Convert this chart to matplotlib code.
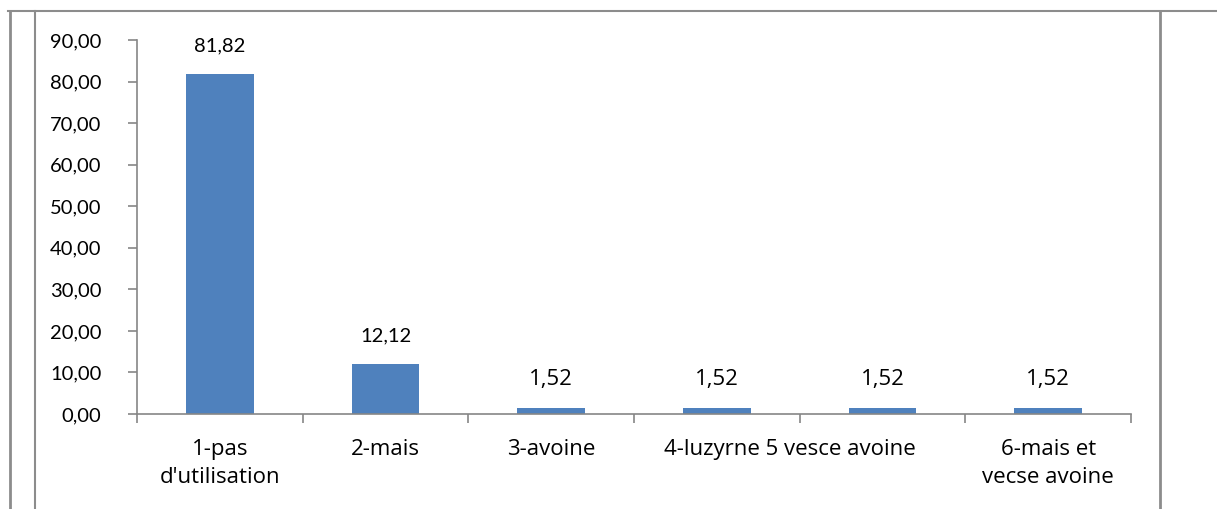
import matplotlib
matplotlib.use("Agg")
import matplotlib.pyplot as plt
from matplotlib.lines import Line2D
from matplotlib.transforms import ScaledTranslation

# donnees du graphique
categories = ["1-pas\nd'utilisation", "2-mais", "3-avoine",
              "4-luzyrne 5 vesce avoine", "", "6-mais et\nvecse avoine"]
valeurs = [81.82, 12.12, 1.52, 1.52, 1.52, 1.52]
etiquettes = ["81,82", "12,12", "1,52", "1,52", "1,52", "1,52"]
y_ticks = [0, 10, 20, 30, 40, 50, 60, 70, 80, 90]

plt.rcParams['font.family'] = ['Lato', 'DejaVu Sans']
police_large = ['Open Sans', 'DejaVu Sans']

W, H = 1217, 509
fig = plt.figure(figsize=(W / 100, H / 100), dpi=100)
fig.patch.set_facecolor("white")

ax = fig.add_axes([137 / W, (H - 414) / H, (1131 - 137) / W, (414 - 40) / H])

x = list(range(len(valeurs)))
bars = ax.bar(x, valeurs, width=0.41, color="#4F81BD", zorder=2)

for xi, v, t in zip(x, valeurs, etiquettes):
    if len(t) > 4:
        ax.annotate(t, (xi, v), xytext=(0, 20), textcoords="offset points",
                    ha="center", va="center", fontsize=14.5)
    else:
        ax.annotate(t, (xi, v), xytext=(0, 20), textcoords="offset points",
                    ha="center", va="center", fontsize=16, family=police_large)

ax.set_xlim(-0.5, len(valeurs) - 0.5)
ax.set_ylim(0, 90)
ax.set_yticks(y_ticks)
ax.set_yticklabels([f"{v:.2f}".replace(".", ",") for v in y_ticks], fontsize=14.5)

# graduations x aux limites des categories
ax.set_xticks([i - 0.5 for i in range(len(valeurs) + 1)], minor=True)
ax.set_xticks(x)
ax.set_xticklabels(categories, fontsize=16, linespacing=1.45, family=police_large)
ax.tick_params(axis="x", which="major", length=0, pad=18)
ax.tick_params(axis="x", which="minor", length=6.5, width=1.2, color="#868686")
ax.tick_params(axis="y", length=6.5, width=1.2, color="#868686", pad=19)

# le libelle 4 deborde sur la categorie 5 (comme dans Excel)
lab4 = ax.get_xticklabels()[3]
lab4.set_transform(lab4.get_transform() + ScaledTranslation(73 / 100, 0, fig.dpi_scale_trans))

for s in ["top", "right"]:
    ax.spines[s].set_visible(False)
for s in ["left", "bottom"]:
    ax.spines[s].set_color("#868686")
    ax.spines[s].set_linewidth(1.2)


# cadre autour du graphique (coordonnees pixels)
def trait(x0, y0, x1, y1, lw=1.5):
    fig.add_artist(Line2D([x0 / W, x1 / W], [1 - y0 / H, 1 - y1 / H],
                          transform=fig.transFigure, color="#8C8C8C", lw=lw))


trait(8, 11, W, 11)
trait(10, 11, 10, H, lw=2)
trait(35, 11, 35, H)
trait(1160, 11, 1160, H, lw=2)

fig.savefig("out.png", dpi=100, facecolor="white")
